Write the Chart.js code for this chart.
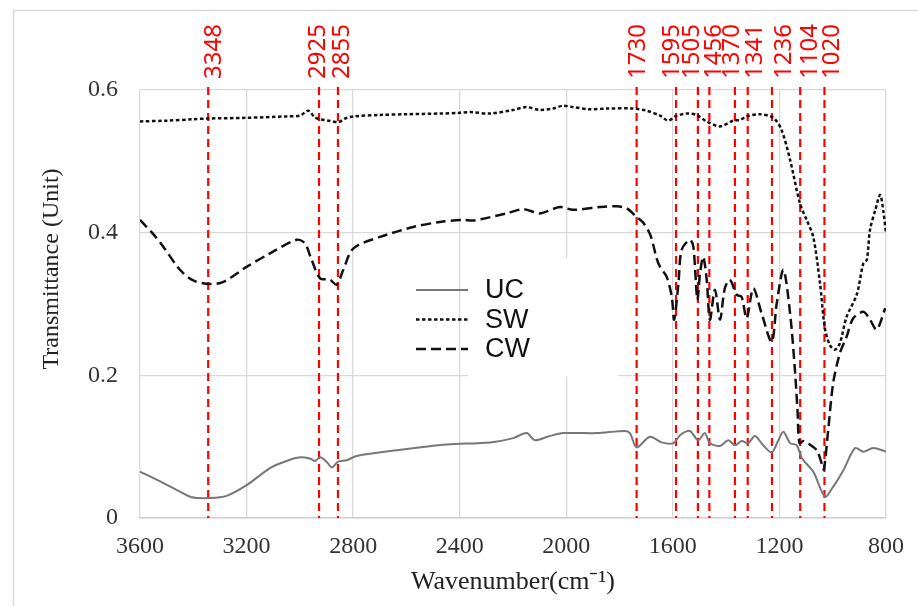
<!DOCTYPE html>
<html>
<head>
<meta charset="utf-8">
<script src="https://cdn.jsdelivr.net/npm/chart.js@4.4.1/dist/chart.umd.min.js"></script>
<style>
  html, body { margin: 0; padding: 0; background: #fff; }
  canvas { display: block; }
</style>
</head>
<body>
<canvas id="ftirChart" width="918" height="606"></canvas>
<script>
// FTIR readings (wavenumber in cm-1, transmittance)
const ucWave = [3600, 3512, 3450, 3406, 3337, 3275, 3200, 3112, 3050, 2999, 2960, 2943, 2924, 2900, 2880, 2856, 2824, 2787, 2636, 2449, 2286, 2199, 2149, 2118, 2070, 2011, 1886, 1780, 1761, 1736, 1686, 1642, 1598, 1573, 1536, 1505, 1480, 1461, 1423, 1392, 1367, 1342, 1317, 1292, 1261, 1229, 1204, 1185, 1160, 1135, 1116, 1073, 1029, 998, 960, 916, 885, 848, 800]
const ucTrans = [0.065, 0.049, 0.037, 0.029, 0.028, 0.031, 0.046, 0.070, 0.080, 0.085, 0.083, 0.080, 0.085, 0.079, 0.071, 0.079, 0.081, 0.087, 0.095, 0.103, 0.106, 0.112, 0.119, 0.109, 0.114, 0.119, 0.119, 0.122, 0.119, 0.099, 0.114, 0.106, 0.105, 0.116, 0.122, 0.109, 0.119, 0.105, 0.101, 0.109, 0.102, 0.108, 0.105, 0.115, 0.102, 0.092, 0.109, 0.121, 0.105, 0.102, 0.084, 0.065, 0.030, 0.044, 0.067, 0.098, 0.093, 0.098, 0.093]

const swWave = [3600, 3500, 3400, 3348, 3200, 3050, 3000, 2968, 2945, 2925, 2890, 2855, 2830, 2800, 2700, 2600, 2474, 2400, 2360, 2286, 2200, 2150, 2100, 2050, 2012, 1975, 1911, 1850, 1750, 1698, 1648, 1617, 1592, 1548, 1511, 1473, 1423, 1373, 1348, 1323, 1273, 1223, 1192, 1160, 1123, 1098, 1073, 1048, 1029, 1010, 991, 973, 948, 910, 885, 872, 860, 840, 822, 810, 800]
const swTrans = [0.556, 0.557, 0.559, 0.560, 0.561, 0.563, 0.564, 0.571, 0.562, 0.559, 0.557, 0.555, 0.560, 0.563, 0.565, 0.566, 0.567, 0.568, 0.569, 0.567, 0.572, 0.576, 0.572, 0.574, 0.578, 0.576, 0.573, 0.574, 0.574, 0.571, 0.564, 0.557, 0.563, 0.567, 0.565, 0.556, 0.549, 0.557, 0.558, 0.563, 0.566, 0.561, 0.544, 0.502, 0.441, 0.418, 0.394, 0.330, 0.265, 0.242, 0.236, 0.245, 0.282, 0.313, 0.357, 0.362, 0.404, 0.432, 0.453, 0.430, 0.399]

const cwWave = [3600, 3550, 3512, 3450, 3400, 3337, 3287, 3200, 3112, 3012, 2981, 2956, 2924, 2887, 2862, 2837, 2799, 2699, 2574, 2474, 2387, 2350, 2224, 2161, 2099, 2024, 1975, 1873, 1811, 1773, 1736, 1711, 1686, 1673, 1661, 1648, 1623, 1604, 1595, 1579, 1567, 1536, 1523, 1508, 1498, 1486, 1473, 1461, 1442, 1423, 1405, 1386, 1360, 1342, 1323, 1298, 1267, 1229, 1210, 1185, 1160, 1142, 1132, 1125, 1110, 1090, 1060, 1040, 1033, 1017, 998, 973, 948, 923, 885, 860, 835, 803]
const cwTrans = [0.418, 0.398, 0.380, 0.348, 0.333, 0.328, 0.331, 0.352, 0.371, 0.390, 0.385, 0.362, 0.336, 0.334, 0.327, 0.348, 0.378, 0.394, 0.408, 0.415, 0.418, 0.417, 0.427, 0.433, 0.427, 0.436, 0.432, 0.436, 0.437, 0.434, 0.422, 0.414, 0.398, 0.382, 0.364, 0.352, 0.338, 0.310, 0.278, 0.329, 0.376, 0.390, 0.380, 0.306, 0.343, 0.366, 0.334, 0.278, 0.320, 0.278, 0.322, 0.334, 0.313, 0.310, 0.280, 0.322, 0.287, 0.247, 0.301, 0.348, 0.287, 0.208, 0.150, 0.105, 0.108, 0.104, 0.095, 0.075, 0.068, 0.123, 0.190, 0.231, 0.254, 0.280, 0.289, 0.278, 0.264, 0.294]

// peak markers: label text, where the dashed line sits, where the label is centred
const peakLabels = ["3348", "2925", "2855", "1730", "1595", "1505", "1456", "1370", "1341", "1236", "1104", "1020"]
const peakLines = [3344, 2928, 2857, 1736, 1588, 1506, 1463, 1367, 1319, 1228, 1122, 1031]
const peakLabelAt = [3328, 2937, 2846, 1738, 1609, 1533, 1453, 1384, 1296, 1190, 1090, 1008]

const xTicks = [3600, 3200, 2800, 2400, 2000, 1600, 1200, 800]
const yTicks = [0, 0.2, 0.4, 0.6]

const toPoints = (xs, ys) => xs.map((x, i) => ({ x: x, y: ys[i] }))

const serif = "'Liberation Serif', 'Times New Roman', serif"

const decorations = {
  id: "decorations",
  beforeDraw(chart) {
    const { ctx, width, height } = chart
    ctx.save()
    ctx.fillStyle = "#fff"
    ctx.fillRect(0, 0, width, height)
    ctx.strokeStyle = "#d9d9d9"
    ctx.lineWidth = 1.5
    ctx.strokeRect(13.5, 10.5, width + 40, height + 40)
    ctx.restore()
  },
  beforeDatasetsDraw(chart) {
    const { ctx, chartArea, scales } = chart
    ctx.save()
    // legend backdrop hides the grid behind it
    ctx.fillStyle = "#fff"
    ctx.fillRect(468, 258, 150, 119)
    // dashed peak markers
    ctx.strokeStyle = "#ff0000"
    ctx.lineWidth = 2.2
    ctx.setLineDash([8, 5])
    peakLines.forEach((w) => {
      const px = scales.x.getPixelForValue(w)
      ctx.beginPath()
      ctx.moveTo(px, chartArea.top - 3)
      ctx.lineTo(px, chartArea.bottom)
      ctx.stroke()
    })
    ctx.restore()
  },
  afterDraw(chart) {
    const { ctx, scales } = chart
    // peak labels
    ctx.save()
    ctx.fillStyle = "#ff0000"
    ctx.font = "24px 'Noto Sans'"
    ctx.textAlign = "left"
    ctx.textBaseline = "alphabetic"
    peakLabels.forEach((txt, i) => {
      const px = scales.x.getPixelForValue(peakLabelAt[i])
      ctx.save()
      ctx.translate(px + 8.5, 79)
      ctx.rotate(-Math.PI / 2)
      ctx.fillText(txt, 0, 0)
      ctx.restore()
    })
    ctx.restore()

    // y axis title
    ctx.save()
    ctx.fillStyle = "#222"
    ctx.font = "24px " + serif
    ctx.textAlign = "center"
    ctx.textBaseline = "middle"
    ctx.translate(52, 269)
    ctx.rotate(-Math.PI / 2)
    ctx.fillText("Transmittance (Unit)", 0, 0)
    ctx.restore()

    // legend
    ctx.save()
    ctx.font = "27px 'Liberation Sans', Arial, sans-serif"
    ctx.textBaseline = "middle"
    ctx.fillStyle = "#111"
    chart.data.datasets.forEach((ds, i) => {
      const y = 290 + i * 29.5
      ctx.strokeStyle = ds.borderColor
      ctx.lineWidth = ds.borderWidth
      ctx.setLineDash(ds.borderDash || [])
      ctx.beginPath()
      ctx.moveTo(416, y)
      ctx.lineTo(468, y)
      ctx.stroke()
      ctx.fillText(ds.label, 485, y + 1)
    })
    ctx.restore()
  },
}

const ctx = document.getElementById("ftirChart").getContext("2d")
new Chart(ctx, {
  type: "line",
  data: {
    datasets: [
      {
        label: "UC",
        data: toPoints(ucWave, ucTrans),
        borderColor: "#777",
        borderWidth: 2,
        borderDash: [],
      },
      {
        label: "SW",
        data: toPoints(swWave, swTrans),
        borderColor: "#111",
        borderWidth: 2.5,
        borderDash: [3.5, 2.5],
      },
      {
        label: "CW",
        data: toPoints(cwWave, cwTrans),
        borderColor: "#111",
        borderWidth: 2.5,
        borderDash: [10, 5],
      },
    ],
  },
  options: {
    responsive: false,
    animation: false,
    layout: { padding: { top: 90, right: 32, left: 0, bottom: 0 } },
    elements: {
      point: { radius: 0 },
      line: { tension: 0.3, fill: false },
    },
    plugins: {
      legend: { display: false },
      tooltip: { enabled: false },
    },
    scales: {
      x: {
        type: "linear",
        reverse: true,
        min: 800,
        max: 3600,
        afterBuildTicks: (s) => {
          s.ticks = xTicks.map((v) => ({ value: v }))
        },
        afterFit: (s) => {
          s.height = 88
        },
        ticks: {
          padding: 14,
          color: "#333",
          font: { family: serif, size: 24 },
          callback: (v) => String(v),
        },
        grid: { color: "#d9d9d9", lineWidth: 1.3, drawTicks: false },
        border: { color: "#d0d0d0", width: 1.5 },
        title: {
          display: true,
          text: "Wavenumber(cm⁻¹)",
          color: "#222",
          font: { family: serif, size: 26 },
          padding: { top: 0, bottom: 8 },
        },
      },
      y: {
        min: 0,
        max: 0.6,
        afterBuildTicks: (s) => {
          s.ticks = yTicks.map((v) => ({ value: v }))
        },
        afterFit: (s) => {
          s.width = 140
        },
        ticks: {
          padding: 22,
          color: "#333",
          font: { family: serif, size: 24 },
          callback: (v) => (v === 0 ? "0" : v.toFixed(1)),
        },
        grid: { color: "#d9d9d9", lineWidth: 1.3, drawTicks: false },
        border: { display: false },
      },
    },
  },
  plugins: [decorations],
})
</script>
</body>
</html>
